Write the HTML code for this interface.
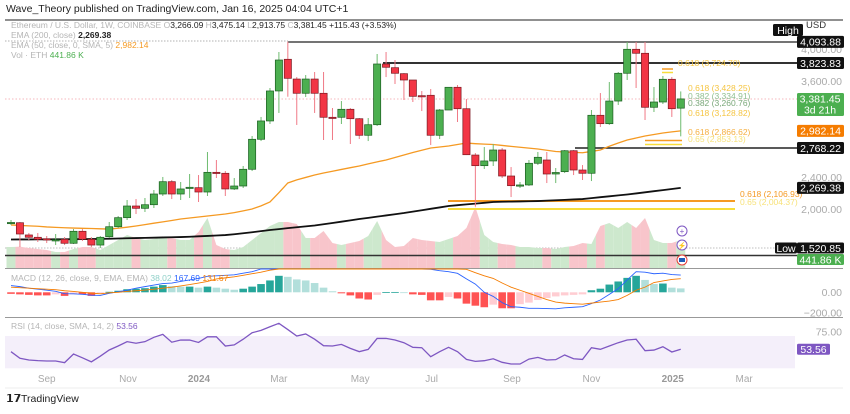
<!DOCTYPE html>
<html><head><meta charset="utf-8"><style>
html,body{margin:0;padding:0;background:#fff;}
body{width:850px;height:409px;overflow:hidden;font-family:"Liberation Sans",sans-serif;}
svg text{font-family:"Liberation Sans",sans-serif;}
</style></head><body>
<svg id="chart" width="850" height="409" viewBox="0 0 850 409" xmlns="http://www.w3.org/2000/svg">
  <text x="6" y="12" font-size="10.5" fill="#222">Wave_Theory published on TradingView.com, Jan 16, 2025 04:04 UTC+1</text>
  <line x1="5" y1="20" x2="843" y2="20" stroke="#222" stroke-width="1"/>
  <line x1="5" y1="41" x2="288" y2="41" stroke="#999" stroke-dasharray="1.5,1.5" stroke-width="0.8"/>
  <line x1="5" y1="99" x2="800" y2="99" stroke="#f4a0a8" stroke-dasharray="1.5,2" stroke-width="0.8"/>
  <line x1="5" y1="248" x2="800" y2="248" stroke="#aaa" stroke-dasharray="1.5,1.5" stroke-width="0.8"/>
  <g id="vol"></g>
  <g id="hlines">
    <line x1="288" y1="42" x2="800" y2="42" stroke="#222" stroke-width="1.2"/>
    <line x1="383" y1="63" x2="800" y2="63" stroke="#333" stroke-width="2"/>
    <line x1="575" y1="148" x2="800" y2="148" stroke="#222" stroke-width="1.5"/>
    <line x1="5" y1="255.5" x2="800" y2="255.5" stroke="#333" stroke-width="1.5"/>
    <line x1="448" y1="201" x2="735" y2="201" stroke="#f59a23" stroke-width="2"/>
    <line x1="448" y1="209" x2="735" y2="209" stroke="#f7dd3b" stroke-width="2"/>
    <line x1="645" y1="140.5" x2="682" y2="140.5" stroke="#f59a23" stroke-width="1.5"/>
    <line x1="645" y1="144.5" x2="682" y2="144.5" stroke="#f7dd3b" stroke-width="1.5"/>
    <line x1="662" y1="69" x2="673" y2="69" stroke="#f59a23" stroke-width="1.5"/>
    <line x1="662" y1="72.5" x2="673" y2="72.5" stroke="#f7dd3b" stroke-width="1.5"/>
  </g>
  <g id="ema"></g>
  <g id="candles"></g>
  <g font-size="8.5">
    <text x="678" y="66" fill="#f5c542">0.618 (3,724.70)</text>
    <text x="688" y="91" fill="#f5c542">0.618 (3,428.25)</text>
    <text x="688" y="99" fill="#8fbf8f">0.382 (3,334.91)</text>
    <text x="688" y="106" fill="#7aa87a">0.382 (3,260.76)</text>
    <text x="688" y="116" fill="#f5c542">0.618 (3,128.82)</text>
    <text x="688" y="135" fill="#f5b042">0.618 (2,866.62)</text>
    <text x="688" y="142" fill="#f7e27a">0.65 (2,853.13)</text>
    <text x="740" y="197" fill="#f59a23">0.618 (2,106.93)</text>
    <text x="740" y="205" fill="#f7e27a">0.65 (2,004.37)</text>
  </g>
  <g font-size="8.5">
    <text x="11" y="28" fill="#b5b5b5">Ethereum / U.S. Dollar, 1W, COINBASE <tspan fill="#b5b5b5">O</tspan><tspan fill="#222">3,266.09</tspan> <tspan>H</tspan><tspan fill="#222">3,475.14</tspan> <tspan>L</tspan><tspan fill="#222">2,913.75</tspan> <tspan>C</tspan><tspan fill="#222">3,381.45</tspan> <tspan fill="#222">+115.43 (+3.53%)</tspan></text>
    <text x="11" y="38" fill="#b5b5b5">EMA (200, close) <tspan fill="#222" font-weight="bold">2,269.38</tspan></text>
    <text x="11" y="48" fill="#b5b5b5">EMA (50, close, 0, SMA, 5) <tspan fill="#f59a23">2,982.14</tspan></text>
    <text x="11" y="58" fill="#b5b5b5">Vol · ETH <tspan fill="#4caf50">441.86 K</tspan></text>
  </g>
  <g>
    <circle cx="682" cy="231" r="5" fill="#fff" stroke="#7e57c2"/>
    <text x="682" y="234" font-size="8" text-anchor="middle" fill="#7e57c2">+</text>
    <circle cx="682" cy="245" r="5" fill="#fff" stroke="#7e57c2"/>
    <text x="682" y="248" font-size="7" text-anchor="middle" fill="#7e57c2">⚡</text>
    <circle cx="682" cy="260" r="5" fill="#fff" stroke="#e53935"/>
    <rect x="679" y="258" width="6" height="4" fill="#1e5bb8"/>
  </g>
  <line x1="5" y1="268.5" x2="843" y2="268.5" stroke="#999" stroke-width="1"/>
  <g id="macd"></g>
  <text x="11" y="281" font-size="8.5" fill="#b5b5b5">MACD (12, 26, close, 9, EMA, EMA) <tspan fill="#8fd0c8">38.02</tspan> <tspan fill="#2962ff">167.69</tspan> <tspan fill="#f57c00">131.67</tspan></text>
  <line x1="5" y1="317.5" x2="843" y2="317.5" stroke="#999" stroke-width="1"/>
  <rect x="5" y="336" width="790" height="32.3" fill="#f4effa"/>
  <g id="rsi"></g>
  <text x="11" y="329" font-size="8.5" fill="#b5b5b5">RSI (14, close, SMA, 14, 2) <tspan fill="#7e57c2">53.56</tspan></text>
  <line x1="5" y1="388" x2="843" y2="388" stroke="#eee" stroke-width="1"/>
  <g id="xaxis" font-size="10" fill="#aaa" text-anchor="middle"></g>
  <g id="yaxis" font-size="10.5"></g>
  <g>
    <text x="6" y="402" font-size="11" font-weight="bold" fill="#222">𝟭𝟳</text>
    <text x="21" y="402" font-size="10.5" fill="#222">TradingView</text>
  </g>
</svg>
<script>
const opens=[1834,1834,1681,1652,1634,1616,1627,1577,1727,1627,1555,1659,1784,1897,2043,2014,2059,2193,2347,2193,2273,2272,2218,2464,2452,2256,2293,2502,2877,3106,3481,3877,3630,3452,3630,3452,3152,3152,3252,3134,2927,3059,3818,3772,3697,3618,3422,3427,2927,3243,3527,3259,2680,2547,2606,2743,2418,2297,2306,2577,2618,2443,2472,2734,2493,2452,3177,3072,3355,3702,4002,3952,3277,3343,3627,3266.09];
const highs=[1868,1843,1706,1706,1668,1693,1655,1755,1755,1655,1668,1843,1918,2118,2130,2143,2243,2406,2368,2343,2443,2430,2718,2618,2480,2393,2543,2918,3156,3518,3968,4097,3655,3680,3718,3718,3268,3355,3268,3143,3143,3943,3968,3868,3705,3618,3480,3505,3255,3530,3555,3380,2705,2780,2818,2768,2530,2343,2618,2718,2718,2518,2743,2743,2555,3243,3455,3593,3718,4093,4093,4093,3530,3668,3655,3475.14];
const lows=[1805,1530,1618,1593,1580,1555,1555,1568,1605,1530,1518,1643,1768,1868,1943,1968,2018,2168,2130,2118,2143,2093,2168,2393,2168,2243,2268,2480,2855,3068,3206,3409,3056,3406,3206,2868,2868,3068,2818,2880,2855,3043,3655,3568,3368,3343,3230,2805,2880,3243,3093,2680,2034,2506,2543,2393,2155,2268,2293,2555,2330,2330,2455,2430,2368,2355,3030,3056,3306,3618,3518,3118,3218,3318,3156,2913.75];
const closes=[1837,1693,1652,1627,1618,1621,1577,1727,1627,1555,1652,1784,1897,2043,2014,2059,2193,2347,2193,2256,2277,2218,2464,2452,2256,2293,2502,2877,3106,3481,3868,3639,3452,3630,3452,3152,3143,3252,3134,2927,3059,3818,3777,3702,3618,3414,3414,2927,3243,3527,3259,2684,2547,2606,2743,2418,2297,2306,2577,2652,2443,2462,2734,2493,2452,3177,3072,3355,3702,4002,3952,3277,3343,3627,3259,3381.45];
const volumesK=[332,337,316,300,284,253,253,300,332,332,284,363,442,521,474,442,458,490,474,442,442,569,790,363,300,284,332,442,553,664,727,727,695,474,474,585,395,363,395,427,506,743,442,332,348,474,442,427,411,458,506,632,964,521,411,379,363,332,332,316,316,300,332,348,395,379,664,711,632,727,632,790,442,395,395,441.86];
const ema50=[1806,1800,1795,1790,1781,1776,1771,1767,1764,1762,1758,1755,1765,1778,1793,1810,1828,1845,1862,1880,1893,1905,1918,1930,1943,1960,1982,2006,2045,2093,2210,2331,2370,2400,2430,2455,2478,2500,2522,2543,2570,2595,2618,2650,2680,2712,2740,2768,2780,2793,2812,2830,2822,2816,2812,2800,2788,2777,2766,2755,2740,2724,2718,2713,2709,2725,2743,2790,2830,2868,2893,2918,2937,2955,2970,2982.14];
const ema200=[1624,1625,1625,1626,1626,1627,1627,1628,1629,1630,1632,1634,1637,1640,1642,1645,1647,1650,1652,1655,1659,1664,1669,1674,1680,1690,1702,1715,1729,1743,1754,1766,1777,1788,1799,1815,1831,1847,1863,1880,1895,1910,1925,1940,1955,1973,1990,2008,2025,2043,2053,2063,2073,2083,2093,2096,2098,2100,2102,2105,2110,2115,2120,2125,2130,2141,2153,2164,2176,2187,2200,2214,2228,2241,2255,2269.38];
const macdLine=[65,55,40,30,20,10,-13,-15,-20,-28,-30,-10,5,20,40,55,70,85,90,105,120,135,155,160,165,170,185,200,240,290,350,400,420,430,420,400,370,340,310,290,270,290,300,290,280,270,250,223,210,200,184,130,80,0,-40,-100,-140,-145,-155,-155,-158,-160,-150,-145,-140,-110,-75,-20,35,120,200,195,180,185,172,167.69];
const signalLine=[50,45,40,35,30,25,15,8,0,-8,-15,-5,0,8,15,22,30,40,50,62,75,90,105,130,140,150,165,180,195,215,230,260,290,320,340,350,350,345,335,325,315,305,300,298,295,290,280,270,258,245,235,223,190,160,135,90,50,20,-10,-40,-70,-95,-105,-110,-115,-105,-95,-85,-70,-30,20,50,95,110,125,131.67];
const histogram=[-15,-20,-25,-30,-30,-20,-35,-20,-20,-35,-15,5,15,30,35,40,55,70,60,55,55,45,55,45,35,25,35,55,80,115,160,150,125,115,90,45,10,-10,-30,-60,-70,-25,2,3,0,-20,-25,-78,-78,-45,-60,-110,-130,-145,-120,-155,-155,-115,-100,-75,-55,-40,-30,-25,-20,20,35,75,105,140,160,120,80,85,45,38.02];
const rsi=[50.6,42.4,40.3,39.5,39,39,37,47.7,43,38,45,52.7,57.6,63,61,63,68.4,72,62.3,65,65,62,69,69,57.6,59,66,74,77,81.5,85.7,78,70,72.5,66,58,57.6,59.6,54.7,50.6,53.4,67,67,65,61.7,56,55.5,44.4,50.6,56,50.6,41,38.6,39.4,41.8,37.4,35.3,35.3,41.4,43.5,40.3,40.7,46.5,41.8,41,55.5,53.5,57.6,61.7,65,66,51.8,52.6,56.7,50.2,53.56];
const xTickLabels=["Sep","Nov","2024","Mar","May","Jul","Sep","Nov","2025","Mar"];
const xTickWeeks=[4.0,13.1,21.05,30.0,39.1,47.1,56.1,65.0,74.1,82.1];
const priceTicks=[4000,3600,2400,2000];
const macdTicks=[0,-200];
const rsiTicks=[75];

const NS="http://www.w3.org/2000/svg";
const xOf=i=>11+i*8.93;
const yP=p=>(4618-p)/12.5;
const yVol=v=>268-v/15.8;
const yMacd=v=>Math.max(269,Math.min(317,292.3-v/9.7));
const yRsi=v=>336+(70-v)*0.8075;
function mk(tag,attrs,parent){const e=document.createElementNS(NS,tag);for(const k in attrs)e.setAttribute(k,attrs[k]);parent.appendChild(e);return e;}

const vg=document.getElementById('vol');
const n=closes.length;
for(let i=0;i<n;i++){
  const up=closes[i]>=opens[i];
  const xl=i>0?(xOf(i-1)+xOf(i))/2:xOf(i)-4.5;
  const xr=i<n-1?(xOf(i)+xOf(i+1))/2:xOf(i)+4.5;
  const yl=i>0?(yVol(volumesK[i-1])+yVol(volumesK[i]))/2:yVol(volumesK[i]);
  const yr=i<n-1?(yVol(volumesK[i+1])+yVol(volumesK[i]))/2:yVol(volumesK[i]);
  const p=mk('polygon',{points:`${xl},268 ${xl},${yl} ${xOf(i)},${yVol(volumesK[i])} ${xr},${yr} ${xr},268`,fill:up?'#cde8cd':'#f8c5cb'},vg);
  
  
}
const eg=document.getElementById('ema');
const e50=mk('polyline',{points:ema50.map((v,i)=>xOf(i)+','+yP(v)).join(' '),fill:'none',stroke:'#f59a23','stroke-width':1.3},eg);


const e200=mk('polyline',{points:ema200.map((v,i)=>xOf(i)+','+yP(v)).join(' '),fill:'none',stroke:'#111','stroke-width':1.8},eg);


const cg=document.getElementById('candles');
for(let i=0;i<n;i++){
  const up=closes[i]>=opens[i];
  const x=xOf(i);
  const w=mk('line',{x1:x,x2:x,y1:yP(highs[i]),y2:yP(lows[i]),stroke:up?'#6dbb6f':'#f07a86','stroke-width':1},cg);
  
  
  const top=yP(Math.max(opens[i],closes[i])),bot=yP(Math.min(opens[i],closes[i]));
  const b=mk('rect',{x:x-3.6,y:top,width:7.2,height:Math.max(1.2,bot-top),fill:up?'#4caf50':'#f23645',stroke:up?'#1b5e20':'#7a1a22','stroke-width':0.7},cg);
  
  
}
const mg=document.getElementById('macd');
for(let i=0;i<n;i++){
  const v=histogram[i],prev=i>0?histogram[i-1]:v;
  let col;
  if(v>=0) col=v>=prev?'#26a69a':'#b2dfdb'; else col=v<=prev?'#ff5252':'#ffcdd2';
  const y0=yMacd(0),y1=yMacd(v);
  const r=mk('rect',{x:xOf(i)-3.8,y:Math.min(y0,y1),width:7.6,height:Math.max(0.8,Math.abs(y1-y0)),fill:col},mg);
  
  
}
const ml=mk('polyline',{points:macdLine.map((v,i)=>xOf(i)+','+yMacd(v)).join(' '),fill:'none',stroke:'#2962ff','stroke-width':0.9},mg);


const sl=mk('polyline',{points:signalLine.map((v,i)=>xOf(i)+','+yMacd(v)).join(' '),fill:'none',stroke:'#f57c00','stroke-width':0.9},mg);


const rg=document.getElementById('rsi');
const rl=mk('polyline',{points:rsi.map((v,i)=>xOf(i)+','+yRsi(v)).join(' '),fill:'none',stroke:'#7e57c2','stroke-width':1.3},rg);


const xg=document.getElementById('xaxis');
xTickLabels.forEach((t,k)=>{
  const tx=mk('text',{x:xOf(xTickWeeks[k]),y:382},xg);
  tx.textContent=t;
  if(t==='2024'||t==='2025'){tx.setAttribute('font-weight','bold');tx.setAttribute('fill','#999');}
  
  
});
const yg=document.getElementById('yaxis');
function plain(t,y){const e=mk('text',{x:842,y:y+3.5,'text-anchor':'end',fill:'#aaa'},yg);e.textContent=t;
  
  }
priceTicks.forEach(p=>plain(p.toLocaleString('en-US',{minimumFractionDigits:2}),yP(p)));
macdTicks.forEach(v=>plain(v===0?'0.00':'\u2212200.00',yMacd(v)));
rsiTicks.forEach(v=>plain(v.toFixed(2),yRsi(v)));
function box(t,y,bg,fg,name,x0,w,h){
  const r=mk('rect',{x:x0,y:y-(h||12)/2,width:w,height:h||12,rx:1.5,fill:bg},yg);
  
  
  const e=mk('text',{x:x0+w/2,y:y+3.8,'text-anchor':'middle',fill:fg},yg);e.textContent=t;
  
  
}
const usd=mk('text',{x:806,y:28,fill:'#333','font-size':9.5},yg);usd.textContent='USD';


box('High',30,'#111','#fff','high-tag',773,30,12);
box('4,093.88',yP(4093.88),'#111','#fff','price-tag-high',797,47);
box('3,823.83',63,'#111','#fff','price-tag-3823',797,47);
const cur=mk('rect',{x:797,y:93,width:47,height:23,rx:1.5,fill:'#4caf50'},yg);


const c1=mk('text',{x:820,y:102.5,'text-anchor':'middle',fill:'#fff'},yg);c1.textContent='3,381.45';


const c2=mk('text',{x:820,y:113.5,'text-anchor':'middle',fill:'#fff'},yg);c2.textContent='3d 21h';


box('2,982.14',yP(2982.14),'#f57c00','#fff','ema50-tag',797,47);
box('2,768.22',148,'#111','#fff','price-tag-2768',797,47);
box('2,269.38',yP(2269.38),'#111','#fff','ema200-tag',797,47);
box('Low',248,'#111','#fff','low-tag',775,22,11);
box('1,520.85',248,'#111','#fff','price-tag-low',797,47,11);
box('441.86 K',259.5,'#4caf50','#fff','volume-tag',797,47,11);
box('53.56',yRsi(53.56),'#7e57c2','#fff','rsi-tag',797,33,11);
</script>
</body></html>
